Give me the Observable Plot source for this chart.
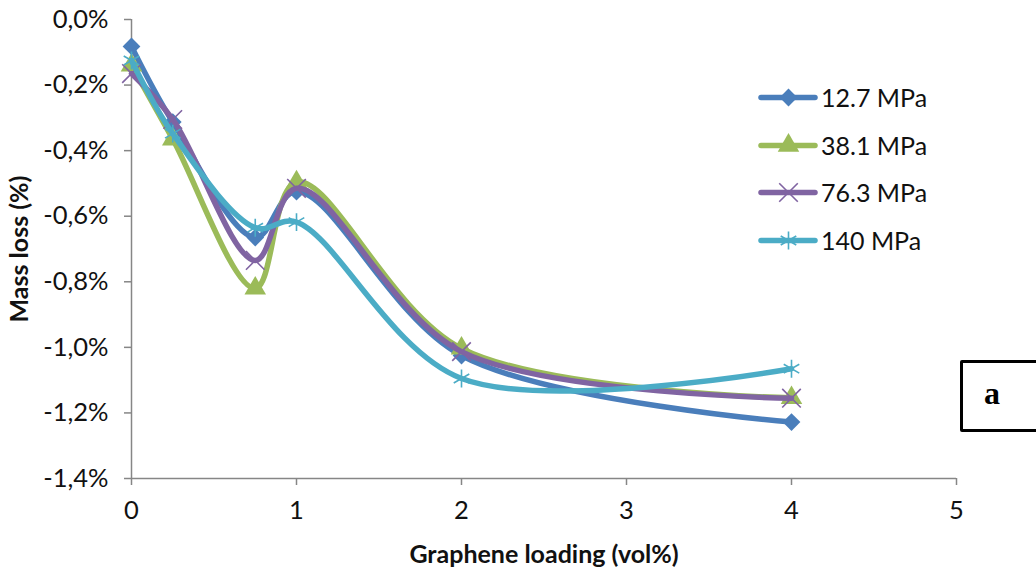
<!DOCTYPE html>
<html>
<head>
<meta charset="utf-8">
<script src="https://cdn.jsdelivr.net/npm/d3@7"></script>
<script src="https://cdn.jsdelivr.net/npm/@observablehq/plot@0.6"></script>
<style>
  html, body { margin: 0; padding: 0; background: #fff; }
  #wrap { position: relative; width: 1036px; height: 572px; overflow: hidden; font-family: Lato, "Open Sans", sans-serif; }
  #legend { position: absolute; left: 755px; top: 73px; }
  .row { display: flex; align-items: center; height: 47.8px; }
  .row span { font-size: 25px; color: #111; margin-left: 2px; }
  #boxa { position: absolute; left: 960px; top: 360px; width: 100px; height: 66px; border: 3.5px solid #000; border-radius: 2px; background: #fff; }
  #boxa span { position: absolute; left: 21px; top: 12px; font-family: "Liberation Serif", "DejaVu Serif", serif; font-weight: bold; font-size: 32px; }
</style>
</head>
<body>
<div id="wrap"></div>
<script>
const xs = [0, 0.25, 0.75, 1, 2, 4];
const seriesNames = ["12.7 MPa", "38.1 MPa", "76.3 MPa", "140 MPa"];
const mpa127 = [-0.082, -0.313, -0.665, -0.525, -1.025, -1.228];
const mpa381 = [-0.140, -0.365, -0.820, -0.496, -1.003, -1.154];
const mpa763 = [-0.165, -0.305, -0.735, -0.515, -1.013, -1.155];
const mpa140 = [-0.125, -0.348, -0.635, -0.618, -1.095, -1.065];
const xTicks = [0, 1, 2, 3, 4, 5];
const yTicks = [0, -0.2, -0.4, -0.6, -0.8, -1.0, -1.2, -1.4];
const xLabel = "Graphene loading (vol%)";
const yLabel = "Mass loss (%)";

const colors = ["#4A7EBB", "#9BBB59", "#8064A2", "#4BACC6"];
const symbols = ["diamond2", "triangle", "times", "asterisk"];
const values = [mpa127, mpa381, mpa763, mpa140];

const series = values.map((vals, i) => vals.map((v, j) => ({x: xs[j], y: v, s: seriesNames[i]})));

const fmt = d => d.toFixed(1).replace(".", ",").replace(/^-0,0/, "0,0") + "%";
const isStroked = s => s === "times" || s === "asterisk";

const marks = [];
series.forEach((data, i) => {
  marks.push(Plot.line(data, {x: "x", y: "y", stroke: colors[i], strokeWidth: 5.5, curve: "catmull-rom", strokeLinejoin: "round", strokeLinecap: "round"}));
  const st = isStroked(symbols[i]);
  marks.push(Plot.dot(data, {x: "x", y: "y", symbol: () => symbols[i], r: st ? 8.5 : 8,
    fill: st ? "none" : colors[i], stroke: st ? colors[i] : "none", strokeWidth: st ? 1.6 : 0}));
});

const chart = Plot.plot({
  width: 1036,
  height: 572,
  marginLeft: 131,
  marginRight: 80,
  marginTop: 19,
  marginBottom: 94,
  style: {fontFamily: "Lato, 'Open Sans', sans-serif", background: "#fff"},
  x: {domain: [0, 5]},
  y: {domain: [-1.4, 0]},
  marks: [
    Plot.axisX({ticks: xTicks, tickSize: 7, tickPadding: 15, stroke: "#868686", strokeWidth: 1.5, tickFormat: d => String(d), label: null, fontSize: 25.5, color: "#111"}),
    Plot.axisY({ticks: yTicks, tickSize: 7, tickPadding: 16, stroke: "#868686", strokeWidth: 1.5, tickFormat: fmt, label: null, fontSize: 25.5, color: "#111"}),
    Plot.axisY({ticks: [], label: yLabel, labelAnchor: "center", labelArrow: "none", labelOffset: 121, fontSize: 25, fontWeight: "bold", color: "#111"}),
    Plot.axisX({ticks: [], label: xLabel, labelAnchor: "center", labelArrow: "none", labelOffset: 84, fontSize: 25, fontWeight: "bold", color: "#111"}),
    Plot.ruleX([0], {stroke: "#868686", strokeWidth: 1.5}),
    Plot.ruleY([-1.4], {stroke: "#868686", strokeWidth: 1.5}),
    ...marks
  ]
});
const wrap = document.getElementById("wrap");
wrap.appendChild(chart);

// legend
const legend = document.createElement("div");
legend.id = "legend";
seriesNames.forEach((name, i) => {
  const row = document.createElement("div");
  row.className = "row";
  const st = isStroked(symbols[i]);
  const sw = Plot.plot({
    width: 64, height: 26, margin: 0, axis: null,
    x: {domain: [0, 1], range: [6, 60]}, y: {domain: [0, 1], range: [13, 13]},
    marks: [
      Plot.ruleY([0], {x1: 0, x2: 1, stroke: colors[i], strokeWidth: 5.5, strokeLinecap: "round"}),
      Plot.dot([0.5], {x: d => d, y: 0, symbol: () => symbols[i], r: st ? 8.5 : 8,
        fill: st ? "none" : colors[i], stroke: st ? colors[i] : "none", strokeWidth: 1.6})
    ]
  });
  row.appendChild(sw);
  const t = document.createElement("span");
  t.textContent = name;
  row.appendChild(t);
  legend.appendChild(row);
});
wrap.appendChild(legend);

const box = document.createElement("div");
box.id = "boxa";
box.innerHTML = "<span>a</span>";
wrap.appendChild(box);
</script>
</body>
</html>
